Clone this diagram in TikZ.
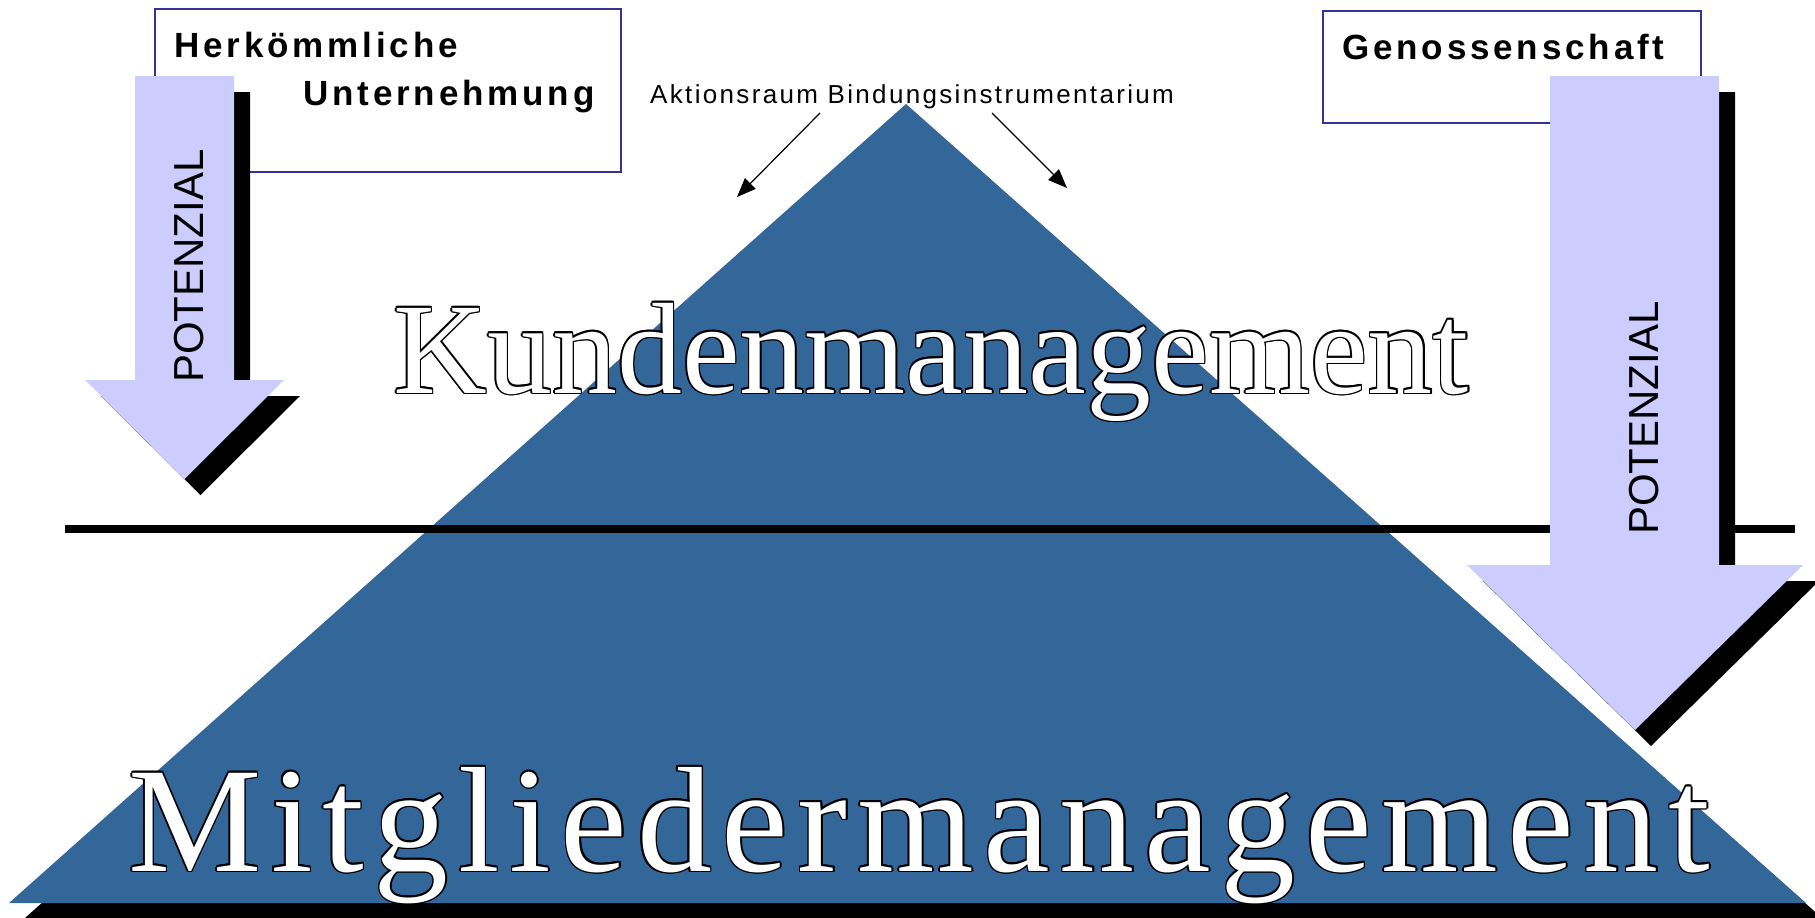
\documentclass[tikz,border=0pt]{standalone}
\usepackage{fontspec}
\usetikzlibrary{arrows.meta}
\newfontfamily\sansA{Liberation Sans}
\newfontfamily\sansSp[LetterSpace=11]{Liberation Sans}
\newfontfamily\sansAk[LetterSpace=9]{Liberation Sans}
\newfontfamily\serifA{Liberation Serif}
\newfontfamily\serifSp[LetterSpace=6.4]{Liberation Serif}
\definecolor{triblue}{HTML}{336699}
\definecolor{lav}{HTML}{CCCCFF}
\definecolor{boxblue}{HTML}{333399}
\newcommand\ocp[3]{\rlap{\hspace*{#1}\raisebox{#2}{#3}}}
\newcommand\outlined[1]{\leavevmode\rlap{\color{black}%
  \ocp{1.5pt}{0pt}{#1}\ocp{-1.5pt}{0pt}{#1}\ocp{0pt}{1.5pt}{#1}\ocp{0pt}{-1.5pt}{#1}%
  \ocp{1.06pt}{1.06pt}{#1}\ocp{1.06pt}{-1.06pt}{#1}\ocp{-1.06pt}{1.06pt}{#1}\ocp{-1.06pt}{-1.06pt}{#1}}%
  \textcolor{white}{#1}}
\tikzset{
  labelbox/.style={draw=boxblue, fill=white, line width=1.5pt, inner sep=0pt, anchor=north west},
  boxtext/.style={anchor=base west, inner sep=0pt, font=\sansSp\bfseries\fontsize{35pt}{35pt}\selectfont},
  pottext/.style={rotate=90, anchor=base west, inner sep=0pt, font=\sansA\fontsize{42pt}{42pt}\selectfont},
  bigtext/.style={anchor=base west, inner sep=0pt},
  blockshadow/.style={fill=black},
  blockfill/.style={fill=lav},
  pointer/.style={line width=1.2pt, -{Triangle[length=19pt,width=15pt]}},
  sepline/.style={line width=7.5pt}
}
\begin{document}
\begin{tikzpicture}[x=1pt,y=-1pt]
\useasboundingbox (0,0) rectangle (1815,918);
% pyramid with shadow
\fill[black] (922,119) -- (1822,918) -- (25,918) -- cycle;
\fill[triblue] (906,104) -- (1806,903) -- (9,903) -- cycle;
% big outlined words
\node[bigtext] (kunden) at (393,393) {\serifA\fontsize{130pt}{130pt}\selectfont\outlined{Kundenmanagement}};
\node[bigtext] (mitglieder) at (128,871) {\serifSp\fontsize{150pt}{150pt}\selectfont\outlined{Mitgliedermanagement}};
% separating line
\coordinate (hl1) at (65,529);
\coordinate (hl2) at (1795,529);
\draw[sepline] (hl1) -- (hl2);
% label boxes
\node[labelbox, minimum width=466pt, minimum height=163pt] (herkbox) at (154,8) {};
\node[labelbox, minimum width=378pt, minimum height=112pt] (genobox) at (1322,10) {};
% left block arrow
\fill[blockshadow, shift={(16,16)}] (135,76) -- (234,76) -- (234,380) -- (284,380) -- (184.5,479) -- (85,380) -- (135,380) -- cycle;
\fill[blockfill] (135,76) -- (234,76) -- (234,380) -- (284,380) -- (184.5,479) -- (85,380) -- (135,380) -- cycle;
% right block arrow
\fill[blockshadow, shift={(16,16)}] (1550,76) -- (1719,76) -- (1719,565) -- (1803,565) -- (1635,730) -- (1467,565) -- (1550,565) -- cycle;
\fill[blockfill] (1550,76) -- (1719,76) -- (1719,565) -- (1803,565) -- (1635,730) -- (1467,565) -- (1550,565) -- cycle;
% texts
\node[boxtext] (herk) at (174,57) {Herkömmliche};
\node[boxtext] (unter) at (303,105) {Unternehmung};
\node[boxtext] (geno) at (1342,59) {Genossenschaft};
\node[pottext] (potl) at (203,383) {POTENZIAL};
\node[pottext] (potr) at (1658,535) {POTENZIAL};
\node[anchor=base west, inner sep=0pt, font=\sansAk\fontsize{26pt}{26pt}\selectfont] (aktion) at (650,103) {Aktionsraum Bindungsinstrumentarium};
% pointers
\coordinate (la1) at (820,113);
\coordinate (la2) at (737,197);
\coordinate (ra1) at (992,113);
\coordinate (ra2) at (1067,188);
\draw[pointer] (la1) -- (la2);
\draw[pointer] (ra1) -- (ra2);
\end{tikzpicture}
\end{document}
